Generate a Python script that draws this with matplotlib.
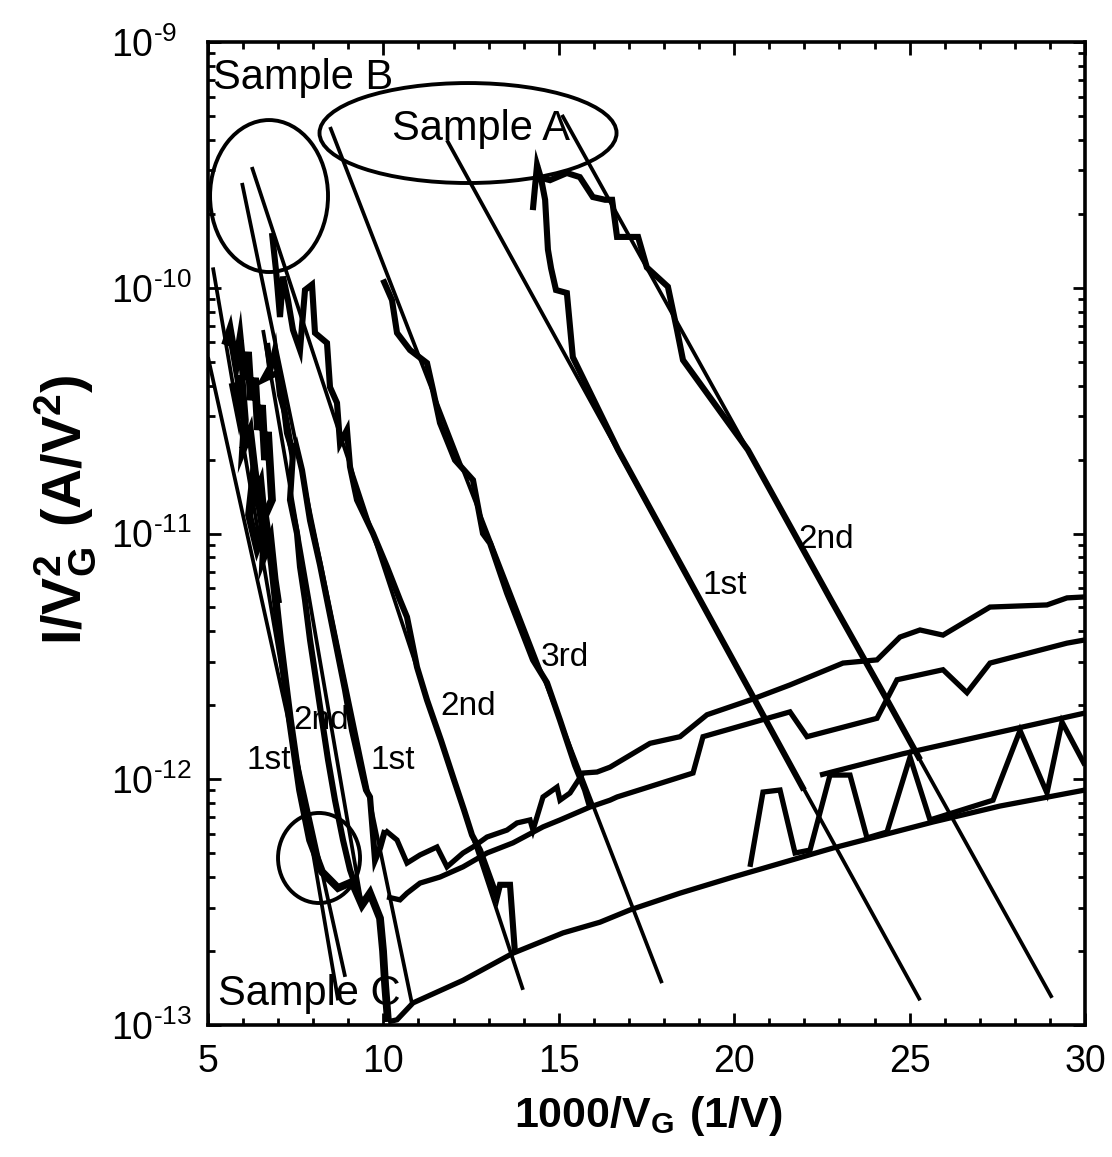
import matplotlib
matplotlib.use("Agg")
import matplotlib.pyplot as plt
from matplotlib.patches import Ellipse
from matplotlib.ticker import MultipleLocator, LogLocator, NullFormatter
from matplotlib import font_manager

# ---------------- data (x = 1000/V_G, y = I/V_G^2) ----------------
# Fowler-Nordheim fit lines (straight in semilog)
fitA2_x = [15.09, 29.06]; fitA2_y = [5.05e-10, 1.29e-13]
fitA1_x = [11.81, 25.30]; fitA1_y = [3.99e-10, 1.26e-13]
fit3_x = [8.48, 17.94];   fit3_y = [4.51e-10, 1.48e-13]
fitB2_x = [6.25, 13.98];  fitB2_y = [3.10e-10, 1.39e-13]
fitB1_x = [5.97, 10.82];  fitB1_y = [2.67e-10, 1.21e-13]
fitC1_x = [5.14, 8.71];   fitC1_y = [1.21e-10, 1.26e-13]
fitC2_x = [5.00, 8.91];   fitC2_y = [5.22e-11, 1.57e-13]
fitC3_x = [6.57, 9.39];   fitC3_y = [6.73e-11, 3.08e-13]

# measured curves
dA1_x = [14.26, 14.38, 14.49, 14.61, 14.69, 14.78, 14.92, 15.23, 15.40, 16.69, 19.03, 20.59, 21.99]
dA1_y = [2.07e-10, 3.16e-10, 2.80e-10, 2.28e-10, 1.43e-10, 1.20e-10, 9.79e-11, 9.52e-11, 5.22e-11,
         2.19e-11, 5.36e-12, 2.10e-12, 9.03e-13]
dA2_x = [14.49, 14.75, 15.23, 15.60, 15.97, 16.32, 16.52, 16.66, 17.26, 17.51, 18.11, 18.37, 18.54,
         20.39, 22.76, 24.36, 25.30]
dA2_y = [2.80e-10, 2.74e-10, 2.93e-10, 2.82e-10, 2.34e-10, 2.28e-10, 2.28e-10, 1.61e-10, 1.61e-10,
         1.21e-10, 1.01e-10, 6.73e-11, 5.08e-11, 2.19e-11, 5.36e-12, 2.10e-12, 1.20e-12]
d3_x = [9.989, 10.245, 10.388, 10.758, 11.243, 11.414, 11.613, 12.041, 12.554, 12.839, 13.039,
        13.523, 14.264, 14.664, 15.034, 15.462, 15.747, 15.890]
d3_y = [1.08e-10, 8.91e-11, 6.55e-11, 5.58e-11, 4.94e-11, 3.84e-11, 2.82e-11, 1.99e-11, 1.65e-11,
        1.00e-11, 9.14e-12, 5.73e-12, 3.06e-12, 2.47e-12, 1.74e-12, 1.14e-12, 9.04e-13, 7.71e-13]
dB2_x = [6.824, 6.938, 7.052, 7.138, 7.280, 7.423, 7.623, 7.765, 7.965, 8.050, 8.392, 8.478, 8.677,
         8.763, 8.962, 9.048, 9.247, 9.704, 10.103, 10.473, 10.673, 10.958, 11.243, 11.642, 12.013,
         12.298, 12.526, 12.754, 13.238, 13.324, 13.609, 13.751]
dB2_y = [1.67e-10, 1.18e-10, 7.60e-11, 1.11e-10, 8.91e-11, 6.73e-11, 5.58e-11, 9.79e-11, 1.03e-10,
         6.55e-11, 5.96e-11, 3.94e-11, 3.40e-11, 2.33e-11, 2.64e-11, 1.87e-11, 1.37e-11, 1.00e-11,
         7.31e-12, 5.36e-12, 4.57e-12, 2.86e-12, 2.10e-12, 1.44e-12, 9.93e-13, 7.50e-13, 5.93e-13,
         5.15e-13, 3.32e-13, 3.72e-13, 3.72e-13, 1.96e-13]
dB1_x = [6.710, 6.910, 7.052, 7.195, 7.395, 7.509, 7.680, 7.908, 8.193, 8.421, 8.649, 8.905, 9.105,
         9.333, 9.504, 9.618, 9.761, 9.903, 10.046]
dB1_y = [4.22e-11, 5.58e-11, 3.66e-11, 3.09e-11, 2.13e-11, 2.29e-11, 1.81e-11, 1.13e-11, 7.45e-12,
         5.12e-12, 3.52e-12, 2.31e-12, 1.58e-12, 1.14e-12, 9.04e-13, 8.47e-13, 4.69e-13, 5.25e-13,
         6.21e-13]
dC1_x = [5.485, 5.627, 5.798, 5.912, 6.026, 6.140, 6.226, 6.340, 6.425, 6.539, 6.625, 6.710, 6.824,
         6.539, 6.311, 6.169, 6.397, 6.653, 6.824, 7.052, 7.337, 7.623, 7.908, 8.250, 8.706, 9.105,
         9.390, 9.618, 9.903, 9.990, 10.050, 10.131]
dC1_y = [5.85e-11, 6.73e-11, 4.85e-11, 6.12e-11, 4.22e-11, 5.48e-11, 3.49e-11, 4.30e-11, 2.64e-11,
         3.33e-11, 1.99e-11, 2.59e-11, 1.37e-11, 1.11e-11, 1.81e-11, 1.19e-11, 8.73e-12, 1.11e-11,
         7.45e-12, 3.69e-12, 1.74e-12, 9.04e-13, 5.66e-13, 4.20e-13, 3.61e-13, 3.82e-13, 3.08e-13,
         3.44e-13, 2.72e-13, 2.00e-13, 1.45e-13, 1.03e-13]
dC2_x = [6.682, 6.767, 6.568, 6.967, 7.138, 7.252, 7.423, 7.337, 7.537, 7.623, 7.765, 7.908, 8.079,
         8.250, 8.421, 8.620, 8.848, 9.048, 9.247]
dC2_y = [5.96e-11, 4.75e-11, 4.22e-11, 4.50e-11, 3.49e-11, 2.56e-11, 2.13e-11, 1.37e-11, 1.00e-11,
         7.31e-12, 5.36e-12, 3.69e-12, 2.54e-12, 1.74e-12, 1.20e-12, 8.22e-13, 5.66e-13, 4.28e-13,
         3.54e-13]
dC3_x = [5.70, 5.85, 5.95, 6.05, 6.00, 6.20, 6.35, 6.30, 6.50, 6.62, 6.58, 6.78, 6.90, 7.00]
dC3_y = [4.10e-11, 3.20e-11, 4.40e-11, 2.90e-11, 2.20e-11, 2.60e-11, 1.70e-11, 1.35e-11, 1.60e-11,
         1.05e-11, 8.00e-12, 9.50e-12, 6.50e-12, 5.20e-12]

# noise-floor curves
fl1_x = [10.046, 10.388, 10.673, 11.044, 11.528, 11.813, 12.269, 12.554, 12.953, 13.523, 13.808,
         14.179, 14.264, 14.550, 14.949, 15.034, 15.319, 15.690, 16.089, 16.460, 17.600, 18.455,
         19.224, 20.450, 21.590, 23.101, 24.070, 24.726, 25.296, 25.952, 27.292, 28.916, 29.487, 30.0]
fl1_y = [6.21e-13, 5.66e-13, 4.56e-13, 4.92e-13, 5.30e-13, 4.40e-13, 5.01e-13, 5.30e-13, 5.82e-13,
         6.21e-13, 6.64e-13, 6.83e-13, 6.21e-13, 8.47e-13, 9.29e-13, 8.22e-13, 8.79e-13, 1.06e-12,
         1.07e-12, 1.12e-12, 1.40e-12, 1.49e-12, 1.83e-12, 2.10e-12, 2.42e-12, 2.97e-12, 3.06e-12,
         3.79e-12, 4.05e-12, 3.86e-12, 5.02e-12, 5.12e-12, 5.47e-12, 5.52e-12]
fl2_x = [10.103, 10.473, 10.673, 11.044, 11.613, 12.269, 12.953, 13.694, 14.550, 15.034, 15.890,
         16.460, 16.660, 18.826, 19.111, 21.590, 22.075, 24.070, 24.641, 25.952, 26.636, 27.292,
         29.487, 30.0]
fl2_y = [3.32e-13, 3.23e-13, 3.44e-13, 3.78e-13, 4.00e-13, 4.40e-13, 5.01e-13, 5.51e-13, 6.40e-13,
         6.83e-13, 7.71e-13, 8.22e-13, 8.47e-13, 1.06e-12, 1.49e-12, 1.88e-12, 1.49e-12, 1.77e-12,
         2.54e-12, 2.79e-12, 2.25e-12, 2.97e-12, 3.58e-12, 3.69e-12]
fl3_x = [22.446, 24.812, 30.0]
fl3_y = [1.04e-12, 1.27e-12, 1.86e-12]
zig_x = [20.450, 20.821, 21.306, 21.734, 22.161, 22.731, 23.301, 23.786, 24.356, 25.012, 25.582,
         27.378, 28.148, 28.916, 29.344, 30.0]
zig_y = [4.40e-13, 8.87e-13, 9.04e-13, 5.01e-13, 5.15e-13, 1.04e-12, 1.04e-12, 5.77e-13, 6.10e-13,
         1.23e-12, 6.83e-13, 8.22e-13, 1.58e-12, 8.79e-13, 1.71e-12, 1.14e-12]
fl4_x = [10.131, 10.388, 10.844, 12.269, 13.694, 15.120, 16.174, 17.030, 18.455, 19.966, 22.816,
         25.667, 27.577, 30.0]
fl4_y = [1.03e-13, 1.05e-13, 1.23e-13, 1.52e-13, 1.96e-13, 2.37e-13, 2.62e-13, 2.94e-13, 3.44e-13,
         4.00e-13, 5.25e-13, 6.70e-13, 7.78e-13, 9.04e-13]

HY = '\u2010'
ytick_vals = [1e-13, 1e-12, 1e-11, 1e-10, 1e-9]
ytick_labels = [r'$\mathregular{10^{%s13}}$' % HY, r'$\mathregular{10^{%s12}}$' % HY,
                r'$\mathregular{10^{%s11}}$' % HY, r'$\mathregular{10^{%s10}}$' % HY,
                r'$\mathregular{10^{%s9}}$' % HY]
xtick_vals = [5, 10, 15, 20, 25, 30]
xtick_labels = ['5', '10', '15', '20', '25', '30']

# ---------------- drawing ----------------
names = {f.name for f in font_manager.fontManager.ttflist}
NARROW = ['Liberation Sans Narrow'] if 'Liberation Sans Narrow' in names else ['Liberation Sans']
NARROW = NARROW + ['DejaVu Sans']
plt.rcParams['font.family'] = ['Liberation Sans', 'DejaVu Sans']
plt.rcParams['mathtext.fontset'] = 'custom'

fig = plt.figure(figsize=(11.12, 11.57), dpi=100)
ax = fig.add_axes([208/1112, 1 - 1025/1157, (1085-208)/1112, (1025-42)/1157])
ax.set_yscale('log')
ax.set_xlim(5, 30)
ax.set_ylim(1e-13, 1e-9)

k = dict(color='black', solid_joinstyle='miter', solid_capstyle='butt')
for fx, fy in [(fitA2_x, fitA2_y), (fitA1_x, fitA1_y), (fit3_x, fit3_y), (fitB2_x, fitB2_y),
               (fitB1_x, fitB1_y), (fitC1_x, fitC1_y), (fitC2_x, fitC2_y), (fitC3_x, fitC3_y)]:
    ax.plot(fx, fy, lw=2.7, **k)
for dx, dy in [(dA1_x, dA1_y), (dA2_x, dA2_y), (d3_x, d3_y), (dB2_x, dB2_y), (dB1_x, dB1_y),
               (dC2_x, dC2_y)]:
    ax.plot(dx, dy, lw=4.4, **k)
for dx, dy in [(dC1_x, dC1_y), (dC3_x, dC3_y)]:
    ax.plot(dx, dy, lw=5.6, **k)
for dx, dy in [(fl1_x, fl1_y), (fl2_x, fl2_y), (fl3_x, fl3_y), (zig_x, zig_y), (fl4_x, fl4_y)]:
    ax.plot(dx, dy, lw=3.8, **k)

# circles marking the samples (axes fraction)
for cx, cy, w, h in [(0.0696, 0.8433, 0.1345, 0.1546), (0.2965, 0.9074, 0.3387, 0.1017),
                     (0.1266, 0.1699, 0.0935, 0.0916)]:
    ax.add_patch(Ellipse((cx, cy), w, h, transform=ax.transAxes, fill=False,
                         lw=2.8, color='black', clip_on=False))

tk = dict(transform=ax.transAxes, color='black')
ax.text(0.006, 0.9634, 'Sample B', fontsize=30, ha='left', va='center', **tk)
ax.text(0.2098, 0.9115, 'Sample A', fontsize=30, ha='left', va='center', **tk)
ax.text(0.0114, 0.0315, 'Sample C', fontsize=30, ha='left', va='center', **tk)
for s, x, y in [('1st', 0.0696, 0.2686), ('2nd', 0.1289, 0.3093), ('1st', 0.2109, 0.2686),
                ('2nd', 0.2965, 0.3245), ('3rd', 0.4071, 0.3734), ('1st', 0.5895, 0.4476),
                ('2nd', 0.7047, 0.4934)]:
    ax.text(x, y, s, fontsize=24, ha='center', va='center', **tk)

# axes styling
for sp in ax.spines.values():
    sp.set_linewidth(2.6)
ax.set_xticks(xtick_vals)
ax.set_xticklabels(xtick_labels, fontfamily=NARROW, fontsize=27)
ax.xaxis.set_minor_locator(MultipleLocator(1))
ax.set_yticks(ytick_vals)
ax.set_yticklabels(ytick_labels, fontfamily=NARROW, fontsize=27)
ax.yaxis.set_minor_locator(LogLocator(base=10, subs=range(2, 10)))
ax.yaxis.set_minor_formatter(NullFormatter())
ax.tick_params(which='both', direction='in', top=True, right=True, width=2.0)
ax.tick_params(which='major', length=9)
ax.tick_params(which='minor', length=5)
ax.tick_params(axis='x', which='major', pad=14)
ax.tick_params(axis='y', which='major', pad=70)
for lab in ax.get_yticklabels():
    lab.set_horizontalalignment('left')

ax.set_xlabel(r'$\mathregular{1000/V_G\ (1/V)}$', fontfamily=NARROW, fontsize=31,
              fontweight='bold', va='center')
ax.xaxis.set_label_coords(0.5017, -0.093)
ax.set_ylabel(r'$\mathregular{I/V_G^2\ (A/V^2)}$', fontfamily=NARROW, fontsize=40,
              fontweight='bold', va='center')
ax.yaxis.set_label_coords(-0.163, 0.524)

fig.savefig('out.png', dpi=100, facecolor='white')
